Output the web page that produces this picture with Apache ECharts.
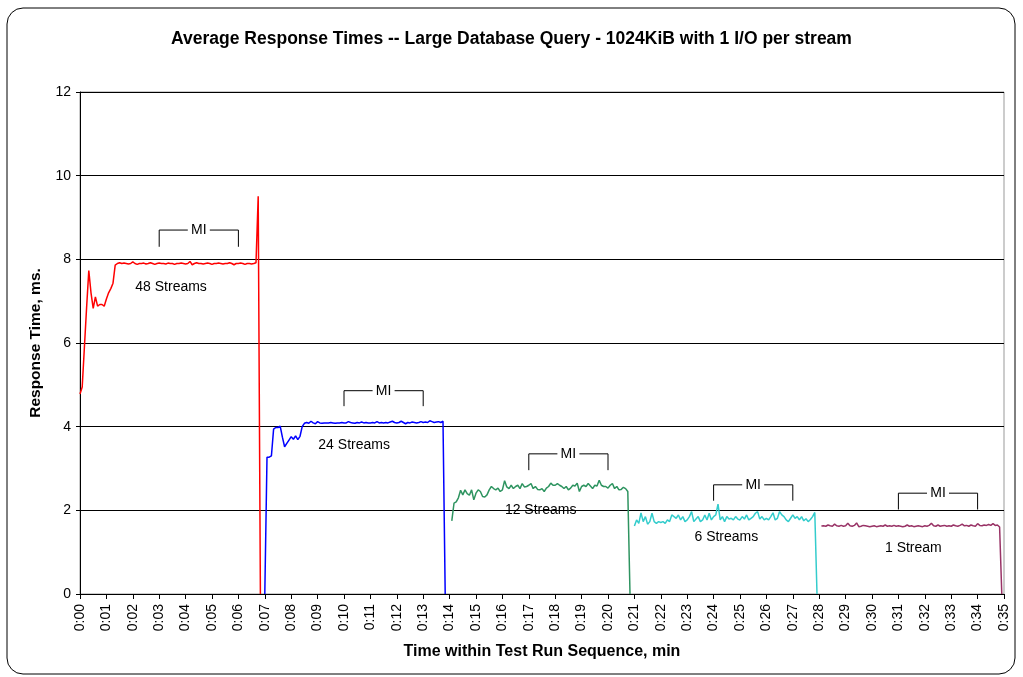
<!DOCTYPE html>
<html>
<head>
<meta charset="utf-8">
<script src="https://cdn.jsdelivr.net/npm/echarts@6/dist/echarts.min.js"></script>
<style>html,body{margin:0;padding:0;background:#fff;}#c{width:1023px;height:677px;}</style>
</head>
<body>
<div id="c"></div>
<script>
// ---- data (seconds from start; one sample every 5 s) ----
const STEP = 5;
const streamNames = ['48 Streams', '24 Streams', '12 Streams', '6 Streams', '1 Stream'];
const startSec = [0, 420, 845, 1260, 1685];
const s48 = [4.78, 4.95, 5.9, 6.85, 7.73, 7.2, 6.83, 7.1, 6.88, 6.92, 6.92, 6.88, 7.05, 7.2, 7.3, 7.43, 7.86,
  7.9, 7.92, 7.9, 7.91, 7.9, 7.89, 7.9, 7.94, 7.9, 7.88,
  7.9, 7.9, 7.91, 7.89, 7.9, 7.92, 7.9, 7.88, 7.9, 7.91,
  7.9, 7.9, 7.89, 7.91, 7.9, 7.9, 7.88, 7.9, 7.9, 7.91,
  7.9, 7.89, 7.9, 7.95, 7.87, 7.9, 7.92, 7.9, 7.9, 7.89,
  7.9, 7.91, 7.9, 7.88, 7.9, 7.9, 7.91, 7.9, 7.89, 7.9,
  7.9, 7.92, 7.9, 7.87, 7.9, 7.9, 7.91, 7.9, 7.88, 7.9,
  7.9, 7.89, 7.9, 7.92, 9.51, 0];
const s24 = [0, 3.27, 3.27, 3.3, 3.94, 3.98, 3.98, 4.01, 3.75, 3.52, 3.6,
  3.68, 3.76, 3.7, 3.78, 3.69, 3.77, 4.0, 4.08, 4.1, 4.08,
  4.13, 4.09, 4.07, 4.12, 4.09, 4.08, 4.09, 4.09, 4.09, 4.1,
  4.09, 4.08, 4.09, 4.09, 4.1, 4.09, 4.09, 4.12, 4.1, 4.09,
  4.08, 4.1, 4.09, 4.11, 4.09, 4.1, 4.09, 4.09, 4.1, 4.09,
  4.12, 4.09, 4.1, 4.09, 4.1, 4.09, 4.11, 4.13, 4.1, 4.09,
  4.1, 4.13, 4.1, 4.07, 4.1, 4.09, 4.11, 4.1, 4.09, 4.1,
  4.12, 4.1, 4.11, 4.1, 4.14, 4.12, 4.1, 4.11, 4.12, 4.1,
  4.13, 0];
const s12 = [1.75, 2.17, 2.2, 2.3, 2.48, 2.37, 2.49, 2.4, 2.36, 2.49,
  2.25, 2.41, 2.49, 2.45, 2.33, 2.32, 2.37, 2.49, 2.57, 2.52,
  2.49, 2.53, 2.45, 2.49, 2.71, 2.56, 2.52, 2.6, 2.52, 2.57,
  2.6, 2.52, 2.64, 2.56, 2.57, 2.6, 2.64, 2.52, 2.57, 2.5,
  2.49, 2.52, 2.45, 2.53, 2.57, 2.65, 2.6, 2.6, 2.64, 2.6,
  2.57, 2.52, 2.57, 2.49, 2.53, 2.6, 2.58, 2.65, 2.45, 2.57,
  2.6, 2.57, 2.64, 2.58, 2.52, 2.6, 2.58, 2.72, 2.6, 2.57,
  2.57, 2.53, 2.6, 2.64, 2.52, 2.57, 2.49, 2.5, 2.55, 2.52,
  2.45, 0];
const s6 = [1.625, 1.77, 1.69, 1.94, 1.73, 1.85, 1.67, 1.73, 1.93, 1.73,
  1.69, 1.73, 1.71, 1.73, 1.69, 1.77, 1.73, 1.89, 1.85, 1.81,
  1.89, 1.77, 1.85, 1.73, 1.77, 1.85, 1.97, 1.73, 1.79, 1.85,
  1.73, 1.77, 1.89, 1.77, 1.93, 1.77, 1.85, 1.89, 2.15, 1.77,
  1.85, 1.73, 1.85, 1.79, 1.81, 1.77, 1.85, 1.79, 1.77, 1.85,
  1.79, 1.89, 1.77, 1.81, 1.85, 1.93, 1.97, 1.79, 1.85, 1.77,
  1.81, 1.77, 1.85, 1.94, 1.77, 1.81, 1.97, 1.89, 1.85, 1.77,
  1.73, 1.81, 1.89, 1.81, 1.85, 1.77, 1.85, 1.75, 1.8, 1.73,
  1.78, 1.85, 1.95, 0];
const s1 = [1.625, 1.63, 1.62, 1.65, 1.63, 1.62, 1.67, 1.63, 1.62, 1.64,
  1.62, 1.63, 1.69, 1.63, 1.62, 1.64, 1.7, 1.61, 1.62, 1.64,
  1.63, 1.62, 1.61, 1.62, 1.63, 1.61, 1.62, 1.63, 1.62, 1.65,
  1.62, 1.63, 1.62, 1.64, 1.62, 1.63, 1.62, 1.61, 1.62, 1.65,
  1.62, 1.63, 1.61, 1.62, 1.63, 1.62, 1.61, 1.63, 1.62, 1.64,
  1.69, 1.63, 1.62, 1.65, 1.62, 1.63, 1.64, 1.62, 1.63, 1.62,
  1.65, 1.63, 1.62, 1.64, 1.67, 1.63, 1.64, 1.62, 1.65, 1.63,
  1.62, 1.68, 1.64, 1.63, 1.65, 1.64, 1.66, 1.64, 1.68, 1.64,
  1.65, 1.6, 0];
// measurement interval brackets: [startSec, endSec]
const miStart = [180, 600, 1020, 1440, 1860];
const miEnd = [360, 780, 1200, 1620, 2040];
const yTicks = [0, 2, 4, 6, 8, 10, 12];

// ---- layout (annotation positions, in data units) ----
const miLevels = [[8.3, 8.7], [4.49, 4.86], [2.96, 3.35], [2.23, 2.61], [2.02, 2.41]];
const labelPos = [[207, 7.34], [623, 3.56], [1047, 2.0], [1469, 1.37], [1894, 1.09]];
const colors = ['#FF0000', '#0000FF', '#2E9460', '#33CCCC', '#993366'];
const seriesVals = [s48, s24, s12, s6, s1];

function toPairs(vals, start) { return vals.map((v, i) => [start + i * STEP, v]); }

const chart = echarts.init(document.getElementById('c'), null, {renderer: 'canvas'});
const FONT = 'Arial, "Liberation Sans", sans-serif';

const lineSeries = seriesVals.map((vals, k) => ({
  type: 'line', name: streamNames[k], data: toPairs(vals, startSec[k]),
  showSymbol: false, symbol: 'none', smooth: false,
  lineStyle: {color: colors[k], width: 1.5}, z: 3, silent: true
}));

const miData = miStart.map((s, i) => [s, miEnd[i], miLevels[i][0], miLevels[i][1]]);
const miSeries = {
  type: 'custom', data: miData, z: 4, silent: true, clip: false,
  encode: {x: [0, 1], y: [2, 3]},
  renderItem: function (params, api) {
    const p0 = api.coord([api.value(0), api.value(2)]);
    const p1 = api.coord([api.value(0), api.value(3)]);
    const p2 = api.coord([api.value(1), api.value(3)]);
    const p3 = api.coord([api.value(1), api.value(2)]);
    const mid = (p1[0] + p2[0]) / 2;
    const st = {stroke: '#000', lineWidth: 1, fill: null};
    return {type: 'group', children: [
      {type: 'polyline', shape: {points: [p0, p1, [mid - 11, p1[1]]]}, style: st},
      {type: 'polyline', shape: {points: [[mid + 11, p1[1]], p2, p3]}, style: st},
      {type: 'text', x: mid, y: p1[1], style: {text: 'MI', fill: '#000', font: '14px ' + FONT, align: 'center', verticalAlign: 'middle'}}
    ]};
  }
};
const lblSeries = {
  type: 'custom', data: labelPos.map((p, i) => [p[0], p[1], i]), z: 5, silent: true, clip: false,
  renderItem: function (params, api) {
    const p = api.coord([api.value(0), api.value(1)]);
    return {type: 'text', x: p[0], y: p[1], style: {text: streamNames[api.value(2)], fill: '#000', font: '14px ' + FONT, align: 'center', verticalAlign: 'middle'}};
  }
};

chart.setOption({
  animation: false,
  backgroundColor: '#fff',
  title: {text: 'Average Response Times -- Large Database Query - 1024KiB with 1 I/O per stream', left: 'center', top: 25,
    textStyle: {fontFamily: FONT, fontWeight: 'bold', fontSize: 17.5, color: '#000'}},
  graphic: [{type: 'rect', shape: {x: 7, y: 8, width: 1008, height: 666, r: 16}, style: {fill: null, stroke: '#000', lineWidth: 1}, z: 0}],
  grid: {left: 80, right: 19, top: 92, bottom: 83, show: true, borderColor: '#999', borderWidth: 1, backgroundColor: '#fff'},
  xAxis: {type: 'value', min: 0, max: 2100, interval: 60,
    name: 'Time within Test Run Sequence, min', nameLocation: 'middle', nameGap: 50,
    nameTextStyle: {fontFamily: FONT, fontWeight: 'bold', fontSize: 16, color: '#000'},
    axisLine: {show: true, lineStyle: {color: '#000', width: 1}},
    axisTick: {show: true, length: 5, lineStyle: {color: '#000'}},
    splitLine: {show: false},
    axisLabel: {rotate: 90, fontFamily: FONT, fontSize: 14, color: '#000', margin: 10,
      formatter: v => '0:' + String(Math.round(v / 60)).padStart(2, '0')}},
  yAxis: {type: 'value', min: 0, max: 12, interval: 2,
    name: 'Response Time, ms.', nameLocation: 'middle', nameGap: 36,
    nameTextStyle: {fontFamily: FONT, fontWeight: 'bold', fontSize: 15.5, color: '#000'},
    axisLine: {show: true, lineStyle: {color: '#000', width: 1}},
    axisTick: {show: true, length: 4, lineStyle: {color: '#000'}},
    splitLine: {show: true, lineStyle: {color: '#000', width: 1}},
    axisLabel: {fontFamily: FONT, fontSize: 14, color: '#000', margin: 9,
      formatter: v => yTicks.includes(v) ? String(v) : ''}},
  series: lineSeries.concat([miSeries, lblSeries])
});
</script>
</body>
</html>
